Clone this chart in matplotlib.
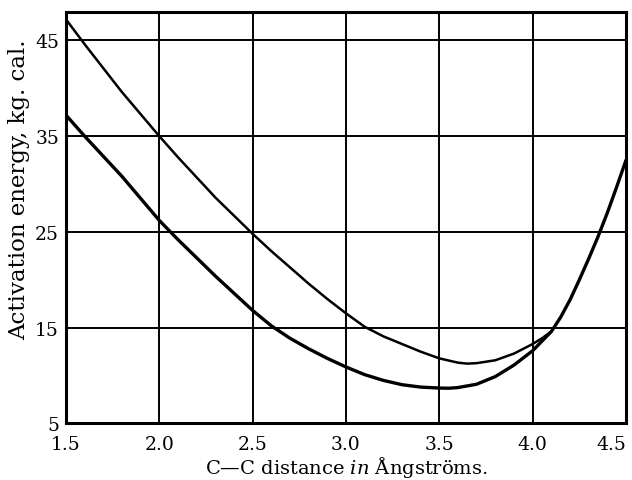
import matplotlib
matplotlib.use("Agg")
import matplotlib.pyplot as plt

# Upper curve
upper_x = [1.50, 1.60, 1.70, 1.80, 1.90, 2.00, 2.10, 2.20, 2.30, 2.40, 2.50, 2.60, 2.70, 2.80,
           2.90, 3.00, 3.10, 3.20, 3.30, 3.40, 3.50, 3.60, 3.65, 3.70, 3.80, 3.90, 4.00, 4.05, 4.10]
upper_y = [47.2, 44.6, 42.1, 39.6, 37.3, 35.0, 32.8, 30.7, 28.6, 26.7, 24.8, 23.0, 21.3, 19.6,
           18.0, 16.5, 15.1, 14.1, 13.3, 12.5, 11.8, 11.35, 11.25, 11.3, 11.6, 12.3, 13.3, 13.9, 14.6]

# Lower curve
lower_x = [1.50, 1.60, 1.70, 1.80, 1.90, 2.00, 2.10, 2.20, 2.30, 2.40, 2.50, 2.60, 2.70, 2.80,
           2.90, 3.00, 3.10, 3.20, 3.30, 3.40, 3.50, 3.55, 3.60, 3.70, 3.80, 3.90, 4.00, 4.05,
           4.10, 4.15, 4.20, 4.25, 4.30, 4.35, 4.40, 4.45, 4.50]
lower_y = [37.2, 35.0, 32.9, 30.8, 28.5, 26.2, 24.2, 22.3, 20.4, 18.6, 16.8, 15.2, 13.9, 12.8,
           11.8, 10.9, 10.1, 9.5, 9.05, 8.8, 8.7, 8.68, 8.75, 9.1, 9.9, 11.1, 12.6, 13.6,
           14.6, 16.1, 17.9, 20.0, 22.2, 24.5, 27.0, 29.7, 32.5]

x_ticks = [1.5, 2.0, 2.5, 3.0, 3.5, 4.0, 4.5]
x_tick_labels = ["1.5", "2.0", "2.5", "3.0", "3.5", "4.0", "4.5"]
y_ticks = [5, 15, 25, 35, 45]
y_tick_labels = ["5", "15", "25", "35", "45"]

plt.rcParams["font.family"] = ["DejaVu Serif"]
plt.rcParams["mathtext.fontset"] = "dejavuserif"

fig = plt.figure(figsize=(6.32, 4.81), dpi=100)
ax = fig.add_axes([0.1044, 0.1175, 0.8861, 0.8561])

ax.set_xlim(1.5, 4.5)
ax.set_ylim(5, 48)

for xv in x_ticks[1:-1]:
    ax.axvline(xv, color="black", lw=1.4, zorder=1)
for yv in y_ticks[1:]:
    ax.axhline(yv, color="black", lw=1.4, zorder=1)

ax.plot(upper_x, upper_y, color="black", lw=1.8, zorder=3,
        solid_capstyle="round", solid_joinstyle="round")
ax.plot(lower_x, lower_y, color="black", lw=2.4, zorder=3,
        solid_capstyle="round", solid_joinstyle="round")

for s in ax.spines.values():
    s.set_linewidth(2.2)
    s.set_color("black")

ax.set_xticks(x_ticks)
ax.set_xticklabels(x_tick_labels, fontsize=13.5)
ax.set_yticks(y_ticks)
ax.set_yticklabels(y_tick_labels, fontsize=13.5)
ax.tick_params(axis="x", length=0, pad=8)
ax.tick_params(axis="y", length=0, pad=5)
ax.get_xticklabels()[-1].set_ha("right")

ax.set_xlabel(r"C—C distance $\mathit{in}$ Ångströms.", fontsize=14, labelpad=1)
ax.set_ylabel("Activation energy, kg. cal.", fontsize=16.5)
ax.yaxis.set_label_coords(-0.064, 0.57)

fig.savefig("out.png", dpi=100)
